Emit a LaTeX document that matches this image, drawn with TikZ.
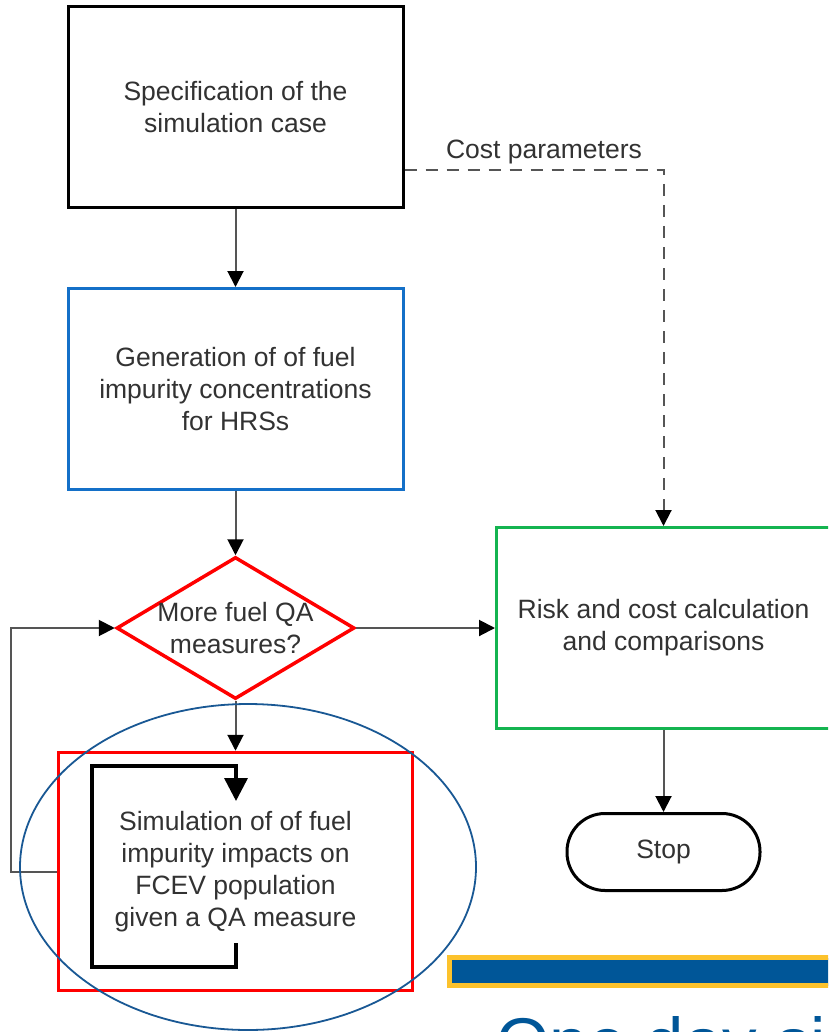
\documentclass[tikz,border=0pt]{standalone}
\usepackage{fontspec}
\setmainfont{Liberation Sans}
\usetikzlibrary{arrows.meta,shapes.geometric}
\definecolor{boxblue}{RGB}{20,112,200}
\definecolor{boxgreen}{RGB}{20,180,80}
\definecolor{ringblue}{RGB}{25,88,148}
\definecolor{barblue}{RGB}{0,86,152}
\definecolor{baryellow}{RGB}{252,194,44}
\definecolor{textgray}{RGB}{50,50,50}
\definecolor{linegray}{RGB}{85,85,85}
\tikzstyle{box}=[
        rectangle,
        line width = 3pt,
        fill = white,
        text = textgray,
        align = center,
        minimum width = 335pt,
        minimum height = 201pt
    ]
\tikzstyle{black box}=[box, draw = black]
\tikzstyle{blue box}=[box, draw = boxblue]
\tikzstyle{green box}=[box, draw = boxgreen, minimum width = 334pt]
\tikzstyle{red box}=[
    box,
    draw = red,
    line width = 3.5pt,
    minimum width = 354pt,
    minimum height = 238pt
]
\tikzstyle{red decision}=[
    diamond,
    draw = red,
    line width = 3.5pt,
    fill = white,
    inner sep = 0pt,
    minimum width = 238pt,
    minimum height = 142pt
]
\tikzstyle{stop state}=[
    draw = black,
    line width = 3pt,
    fill = white,
    text = textgray,
    rounded corners = 38pt,
    minimum width = 193pt,
    minimum height = 77pt
]

\begin{document}
\begin{tikzpicture}[x=1pt, y=-1pt, node distance={240pt}, font=\fontsize{26.5}{32}\selectfont,
        flow/.style = {draw = linegray, line width = 2pt, -{Triangle[width=16pt, length=16pt, color=black]}},
        dashed flow/.style = {flow, dash pattern = on 12pt off 9pt}]
        \useasboundingbox (0,0) rectangle (828,1032);
        \clip (0,0) rectangle (828,1032);
        \fill[white] (0,0) rectangle (828,1032);

        \node[black box] (spec) at (235.5,107.5) {Specification of the\\simulation case};
        \node[blue box] (gen) [below of = spec, node distance = 281.5pt] {Generation of of fuel\\impurity concentrations\\for HRSs};
        \node[red decision] (qa) [below of = gen, node distance = 239pt] {};
        \node[text = textgray, align = center] (qa text) at (qa) {More fuel QA\\measures?};
        \node[red box] (sim) [below of = qa, node distance = 243.5pt] {Simulation of of fuel\\impurity impacts on\\FCEV population\\given a QA measure};
        \node[green box] (risk) [right of = qa, node distance = 428pt] {Risk and cost calculation\\and comparisons};
        \node[stop state] (stop) [below of = risk, node distance = 224pt] {Stop};
        \node[text = textgray] (cost) at (544,152) {Cost parameters};

        \draw[flow] (spec) -- (gen);
        \draw[flow] (gen) -- (qa);
        \draw[flow] (qa) -- (sim);
        \draw[flow] (qa) -- (risk);
        \draw[flow] (risk) -- (stop);
        \draw[flow] (sim.west) -- ++(-46,0) |- (qa.west);
        \draw[dashed flow] ([yshift=-62.5pt]spec.east) -| (risk.north);
        \draw[line width = 3.5pt, -{Triangle[width=23pt, length=23pt]}] (236,943) -- (236,967) -- (92,967) -- (92,766) -- (236,766) -- (236,801);

        \draw[draw = ringblue, line width = 1.8pt] (248,867) ellipse [x radius = 228pt, y radius = 163pt];
        \draw[draw = baryellow, line width = 5pt, fill = barblue] (449.5,957.5) rectangle (845,985.5);
        \node[anchor = base west, inner sep = 0pt, text = barblue, font = \fontsize{69}{80}\selectfont] (title) at (496,1066) {One day sim};
    \end{tikzpicture}
\end{document}
